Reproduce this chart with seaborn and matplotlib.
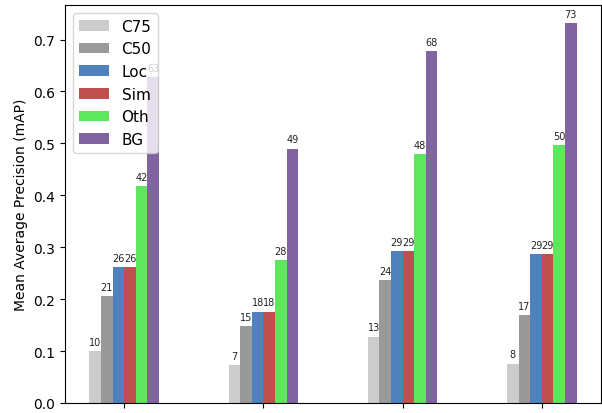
import numpy as np
import pandas as pd
import matplotlib
matplotlib.use("Agg")
import matplotlib.pyplot as plt
import seaborn as sns

# values (mAP)
groups = ["G1", "G2", "G3", "G4"]
series = ["C75", "C50", "Loc", "Sim", "Oth", "BG"]
c75 = [0.100, 0.073, 0.128, 0.076]
c50 = [0.206, 0.148, 0.236, 0.170]
loc = [0.261, 0.176, 0.292, 0.286]
sim = [0.261, 0.176, 0.292, 0.286]
oth = [0.417, 0.276, 0.479, 0.497]
bg = [0.627, 0.490, 0.677, 0.731]
colors = ["#cccccc", "#999999", "#4f81bd", "#c0504d", "#5ee65e", "#8064a2"]

df = pd.DataFrame({"C75": c75, "C50": c50, "Loc": loc, "Sim": sim, "Oth": oth, "BG": bg}, index=groups)
long_df = df.reset_index().melt(id_vars="index", var_name="type", value_name="mAP")

fig = plt.figure(figsize=(6.02, 4.14), dpi=100)
ax = fig.add_axes([65/602, 10/414, 536/602, 398/414])

sns.barplot(data=long_df, x="index", y="mAP", hue="type", hue_order=series,
            palette=colors, width=0.5, gap=0, saturation=1, linewidth=0, ax=ax)

for c in ax.containers:
    vals = [b.get_height() for b in c]
    ax.bar_label(c, labels=[f"{v*100:.0f}" for v in vals], padding=3, fontsize=7, color="#222222")

ax.set_xlim(-0.425, 3.425)
ax.set_ylim(0, 0.7665)
# group names fall below the cropped picture in the reference
ax.set_xticks(range(len(groups)))
ax.set_xticklabels([""] * len(groups))
ax.set_xlabel("")
ax.set_ylabel("Mean Average Precision (mAP)", fontsize=10)
ax.legend(loc="upper left", fontsize=11)

plt.savefig("out.png", dpi=100)
